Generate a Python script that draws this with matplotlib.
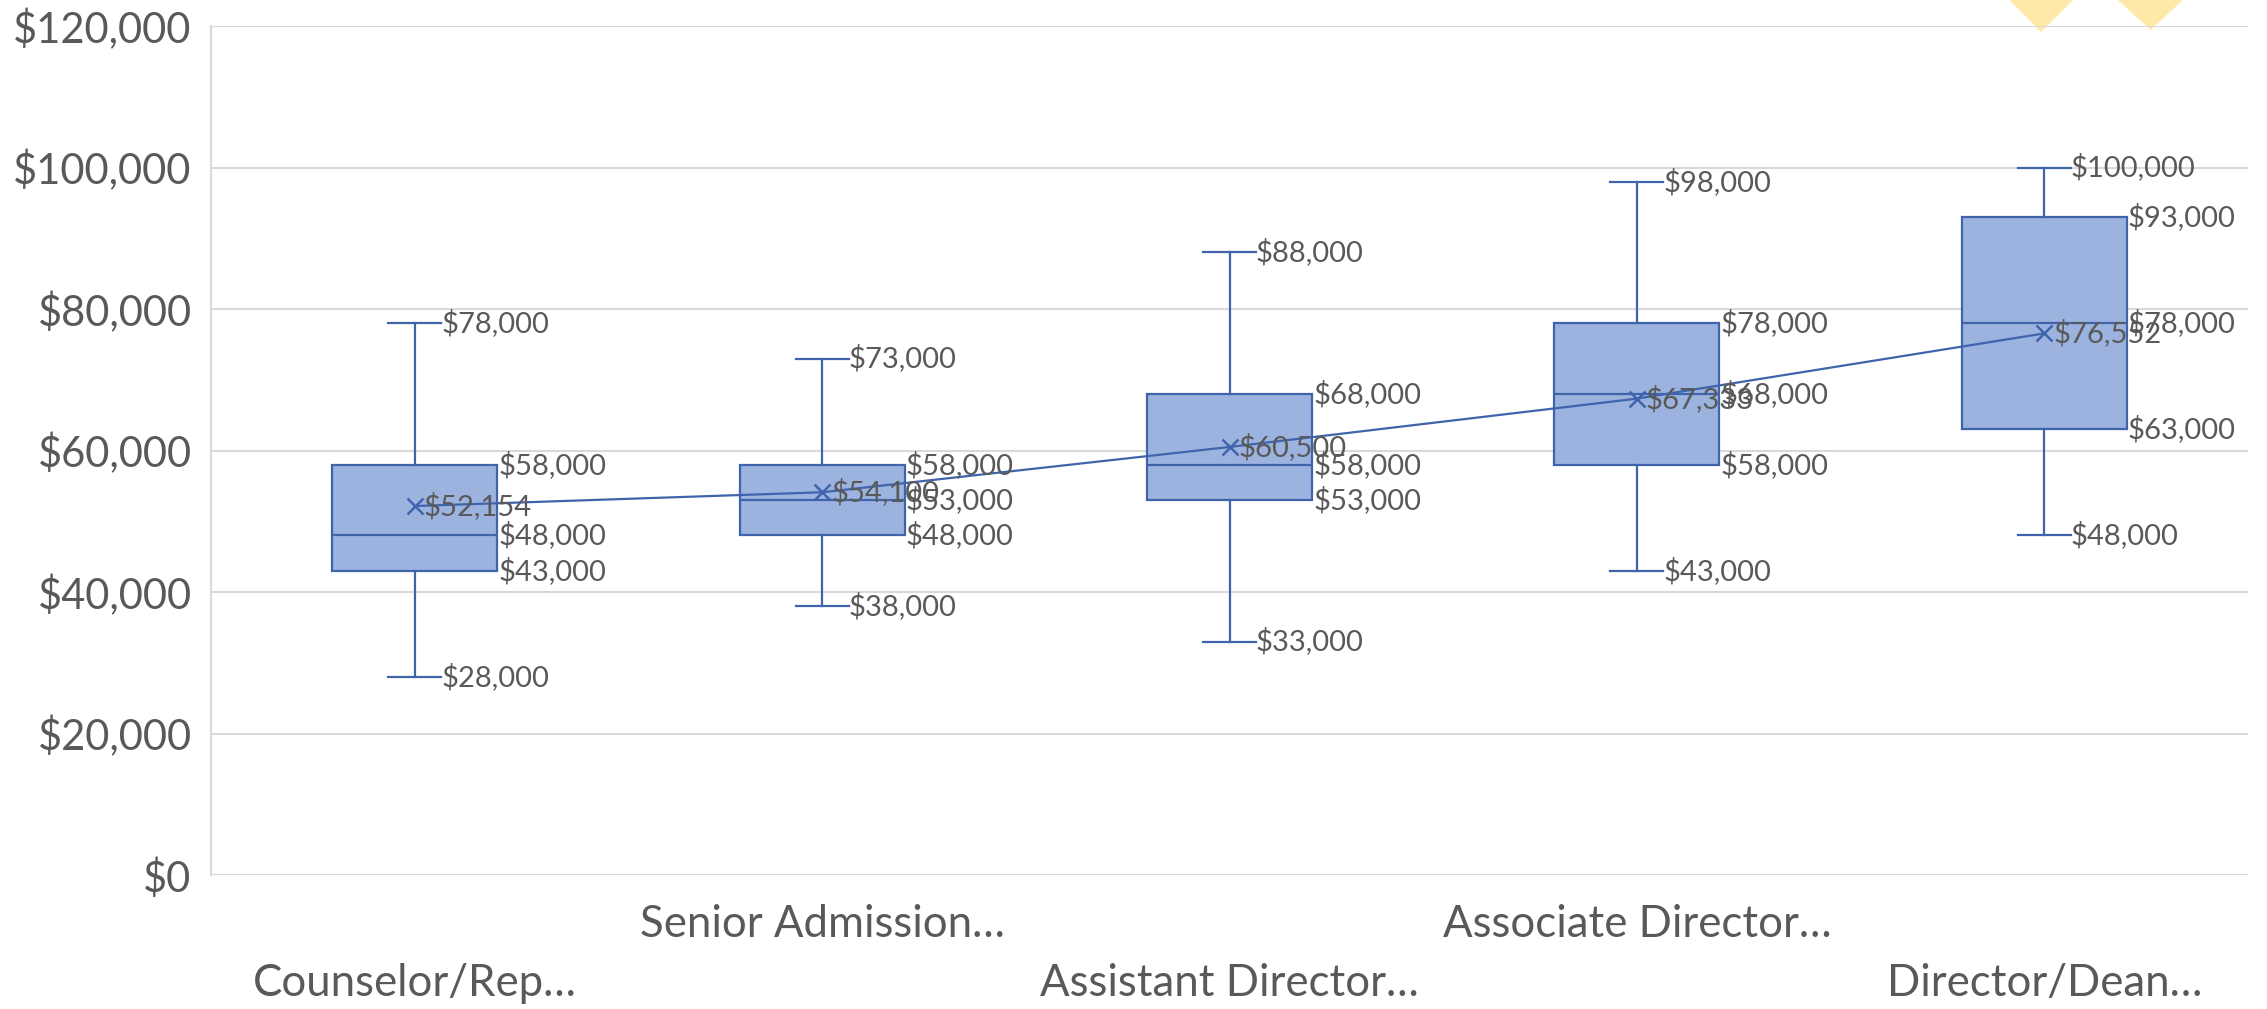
import numpy as np
import matplotlib
matplotlib.use('Agg')
import matplotlib.pyplot as plt
from matplotlib.patches import Polygon
from matplotlib.ticker import FuncFormatter

# salary spread by job level
categories = ["Counselor/Rep…", "Senior Admission…", "Assistant Director…",
              "Associate Director…", "Director/Dean…"]
mins = [28000, 38000, 33000, 43000, 48000]
q1s = [43000, 48000, 53000, 58000, 63000]
medians = [48000, 53000, 58000, 68000, 78000]
q3s = [58000, 58000, 68000, 78000, 93000]
maxs = [78000, 73000, 88000, 98000, 100000]
means = [52154, 54100, 60500, 67333, 76552]
yticks = [0, 20000, 40000, 60000, 80000, 100000, 120000]

BLUE = '#4064AC'
FILL = '#9BB3DE'
TXT = '#595959'
GRID = '#D9D9D9'

plt.rcParams['font.family'] = ['Lato', 'DejaVu Sans']

fig = plt.figure(figsize=(22.67, 10.09), dpi=100)
ax = fig.add_axes([0.0931, 0.1328, 0.8985, 0.8414])
ax.patch.set_alpha(0)

boxw = 0.405
capw = 0.13
stats = []
for i in range(len(categories)):
    stats.append(dict(med=medians[i], q1=q1s[i], q3=q3s[i],
                      whislo=mins[i], whishi=maxs[i], fliers=[]))
pos = np.arange(len(categories))
ax.bxp(stats, positions=pos, widths=boxw, patch_artist=True, showcaps=True,
       capwidths=capw,
       boxprops=dict(facecolor=FILL, edgecolor=BLUE, linewidth=1.6),
       medianprops=dict(color=BLUE, linewidth=1.6),
       whiskerprops=dict(color=BLUE, linewidth=1.6),
       capprops=dict(color=BLUE, linewidth=1.6), zorder=3)

ax.plot(pos, means, color=BLUE, linewidth=1.6, marker='x', markersize=12,
        markeredgewidth=1.8, zorder=4)

fmt = lambda v: '${:,.0f}'.format(v)
lab = dict(fontsize=21, color=TXT, va='center', ha='left', zorder=5)
for i in pos:
    ax.text(i + capw / 2, maxs[i], fmt(maxs[i]), **lab)
    ax.text(i + capw / 2, mins[i], fmt(mins[i]), **lab)
    ax.text(i + boxw / 2 + 0.003, q3s[i], fmt(q3s[i]), **lab)
    ax.text(i + boxw / 2 + 0.003, medians[i], fmt(medians[i]), **lab)
    ax.text(i + boxw / 2 + 0.003, q1s[i], fmt(q1s[i]), **lab)
    ax.text(i + 0.022, means[i], fmt(means[i]), **lab)

ax.set_xlim(-0.5, len(categories) - 0.5)
ax.set_ylim(0, 120000)
ax.set_yticks(yticks)
ax.yaxis.set_major_formatter(FuncFormatter(lambda v, p: fmt(v)))
ax.tick_params(axis='y', length=0, pad=14, labelsize=30, labelcolor=TXT)
ax.grid(axis='y', color=GRID, linewidth=1.5, zorder=0)
ax.set_axisbelow(True)

# staggered category labels
ax.set_xticks(pos[::2], [categories[i] for i in pos[::2]])
ax.set_xticks(pos[1::2], [categories[i] for i in pos[1::2]], minor=True)
ax.tick_params(axis='x', which='major', length=0, pad=63, labelsize=31.5, labelcolor=TXT)
ax.tick_params(axis='x', which='minor', length=0, pad=21, labelsize=31.5, labelcolor=TXT)

for s in ['top', 'right', 'bottom']:
    ax.spines[s].set_visible(False)
ax.spines['left'].set_color(GRID)
ax.spines['left'].set_linewidth(1.5)

# decorative yellow shapes peeking in at top right
W, H = 2267.0, 1009.0
for x0, x1, tip in [(2009, 2073, 32), (2118, 2183, 30)]:
    pts = [(x0 / W, 1.0), (x1 / W, 1.0), ((x0 + x1) / 2 / W, 1 - tip / H)]
    fig.add_artist(Polygon(pts, closed=True, transform=fig.transFigure,
                           facecolor='#FFE9A8', edgecolor='none', zorder=-1))

fig.savefig('out.png', dpi=100, facecolor='white')
